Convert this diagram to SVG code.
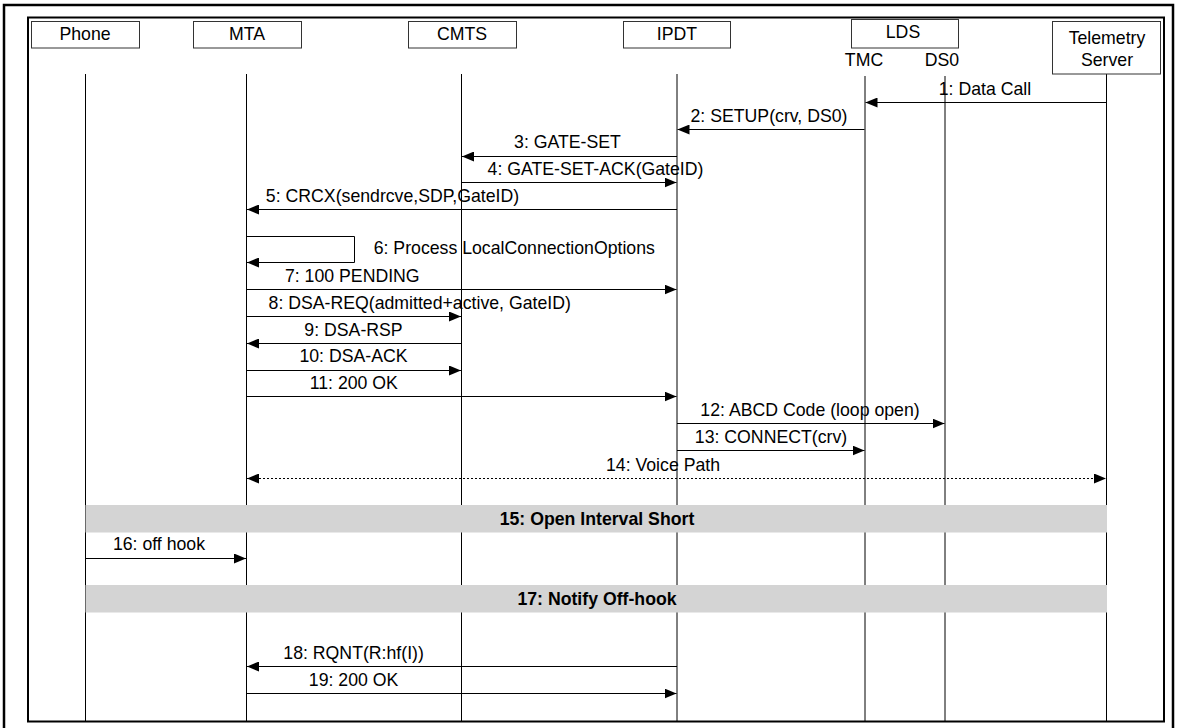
<svg xmlns="http://www.w3.org/2000/svg" width="1177" height="728" viewBox="0 0 1177 728">
<style>
text{font-family:"Liberation Sans",Arial,Helvetica,sans-serif;font-size:17.7px;fill:#000;text-anchor:middle}
.b{font-weight:bold}
.box{fill:#fff;stroke:#333;stroke-width:1}
.life{stroke:#000;stroke-width:1;fill:none}
.msg{stroke:#000;stroke-width:1;fill:none;marker-end:url(#ah)}
.dot{stroke-dasharray:2 2;marker-start:url(#ah)}
.bar{fill:#d4d4d4}
.frame{fill:none;stroke:#000}
</style>
<defs>
<marker id="ah" viewBox="0 0 12 10" refX="12" refY="5" markerWidth="12" markerHeight="10" markerUnits="userSpaceOnUse" orient="auto-start-reverse">
<path d="M0,0 L12,5 L0,10 Z" fill="#000"/>
</marker>
</defs>
<rect width="1177" height="728" fill="#fff"/>
<g id="frame">
<path class="frame" d="M4,732 V5 H1173 V732" stroke-width="2.5"/>
<rect class="frame" x="28" y="17.5" width="1136" height="704" stroke-width="2"/>
</g>
<g id="lifelines">
<path class="life" d="M85.5,74 V721 M246.5,74 V721 M461.5,74 V721 M677,74 V721 M865,76 V721 M945,76 V721 M1106.5,74 V721"/>
</g>
<g id="node-phone"><rect class="box" x="31.5" y="21.5" width="108" height="26.5"/><text x="85" y="40">Phone</text></g>
<g id="node-mta"><rect class="box" x="193.5" y="21.5" width="108" height="26.5"/><text x="247" y="40">MTA</text></g>
<g id="node-cmts"><rect class="box" x="408.5" y="21.5" width="108" height="26.5"/><text x="462" y="40">CMTS</text></g>
<g id="node-ipdt"><rect class="box" x="623.5" y="21.5" width="107" height="26.5"/><text x="677" y="40">IPDT</text></g>
<g id="node-lds"><rect class="box" x="851.5" y="19.5" width="107" height="28.5"/><text x="903" y="38">LDS</text><text x="864" y="66">TMC</text><text x="942" y="66">DS0</text></g>
<g id="node-telemetry"><rect class="box" x="1052.5" y="21.5" width="108" height="52.5"/><text x="1107" y="44">Telemetry</text><text x="1107" y="66">Server</text></g>
<g id="connectors">
<path class="msg" d="M1106.5,102.5 H865.5"/>
<path class="msg" d="M864.5,129.5 H677.5"/>
<path class="msg" d="M677,156.5 H462"/>
<path class="msg" d="M461.5,182.5 H676.5"/>
<path class="msg" d="M677,209.5 H247"/>
<path class="msg" d="M246.5,236.5 H354.5 V262.5 H247"/>
<path class="msg" d="M246.5,289.5 H676.5"/>
<path class="msg" d="M246.5,316.5 H461"/>
<path class="msg" d="M461.5,343.5 H247"/>
<path class="msg" d="M246.5,370.5 H461"/>
<path class="msg" d="M246.5,396.5 H676.5"/>
<path class="msg" d="M677,423.5 H944.5"/>
<path class="msg" d="M677,450.5 H864.5"/>
<path class="msg dot" d="M247,478.5 H1106"/>
<rect class="bar" x="85.5" y="505" width="1021.5" height="27.5"/>
<path class="msg" d="M85.5,558.5 H246"/>
<rect class="bar" x="85.5" y="585" width="1021.5" height="27.5"/>
<path class="msg" d="M677,666.5 H247"/>
<path class="msg" d="M246.5,693.5 H676.5"/>
</g>
<g id="labels">
<text x="985" y="95">1: Data Call</text>
<text x="769" y="121.7">2: SETUP(crv, DS0)</text>
<text x="567.5" y="148.3">3: GATE-SET</text>
<text x="595.5" y="175">4: GATE-SET-ACK(GateID)</text>
<text x="392.5" y="201.7">5: CRCX(sendrcve,SDP,GateID)</text>
<text x="514.3" y="254">6: Process LocalConnectionOptions</text>
<text x="352.3" y="281.7">7: 100 PENDING</text>
<text x="419.7" y="308.7">8: DSA-REQ(admitted+active, GateID)</text>
<text x="353.5" y="335.5">9: DSA-RSP</text>
<text x="353.5" y="362.3">10: DSA-ACK</text>
<text x="353.8" y="389">11: 200 OK</text>
<text x="810" y="416">12: ABCD Code (loop open)</text>
<text x="771" y="443">13: CONNECT(crv)</text>
<text x="663" y="470.7">14: Voice Path</text>
<text class="b" x="597" y="524.5">15: Open Interval Short</text>
<text x="159" y="550">16: off hook</text>
<text class="b" x="597" y="604.5">17: Notify Off-hook</text>
<text x="353.6" y="658.8">18: RQNT(R:hf(I))</text>
<text x="353.6" y="685.8">19: 200 OK</text>
</g>
</svg>
